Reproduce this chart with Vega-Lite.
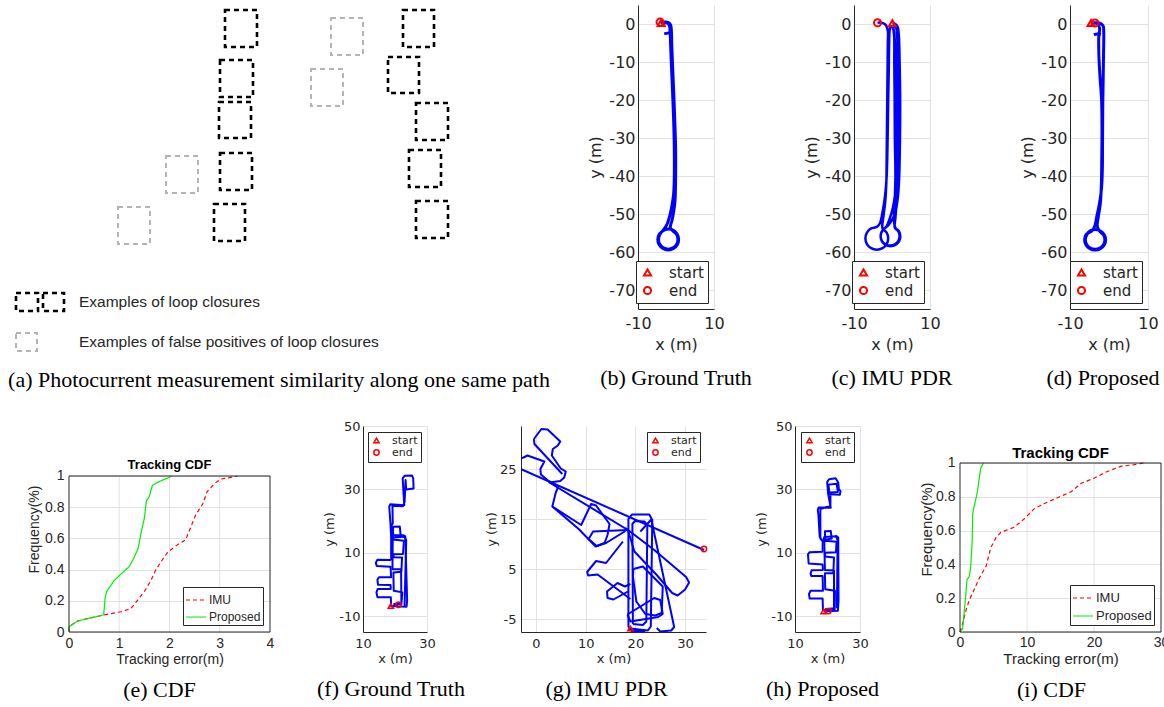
{
"$schema": "https://vega.github.io/schema/vega-lite/v6.json",
"background": "white",
"padding": {"left": 8, "top": 5, "right": 0, "bottom": 0},
"bounds": "flush",
"spacing": 421,
"datasets": {
"a_rects": [
{"k":"loop","x1":224,"x2":256,"y1":10,"y2":47},
{"k":"loop","x1":219,"x2":252,"y1":60,"y2":97},
{"k":"loop","x1":218,"x2":250,"y1":102,"y2":138},
{"k":"loop","x1":219,"x2":251,"y1":153,"y2":190},
{"k":"loop","x1":213,"x2":244,"y1":204,"y2":241},
{"k":"loop","x1":402,"x2":433,"y1":10,"y2":47},
{"k":"loop","x1":387,"x2":418,"y1":57,"y2":93},
{"k":"loop","x1":415,"x2":447,"y1":103,"y2":140},
{"k":"loop","x1":408,"x2":440,"y1":150,"y2":187},
{"k":"loop","x1":415,"x2":447,"y1":201,"y2":238},
{"k":"loop","x1":15,"x2":37,"y1":293,"y2":311},
{"k":"loop","x1":42,"x2":63,"y1":293,"y2":311},
{"k":"false","x1":165,"x2":197,"y1":156,"y2":193},
{"k":"false","x1":117,"x2":149,"y1":207,"y2":244},
{"k":"false","x1":330,"x2":362,"y1":18,"y2":55},
{"k":"false","x1":310,"x2":342,"y1":69,"y2":106},
{"k":"false","x1":15,"x2":36,"y1":333,"y2":351}
],
"a_text": [
{"t":"Examples of loop closures","x":78,"y":302},
{"t":"Examples of false positives of loop closures","x":78,"y":342}
],
"b": [
{"s":"m","x":-3.9,"y":0.3},{"s":"m","x":-2.8,"y":0.35},{"s":"m","x":-2.1,"y":0.15},{"s":"m","x":-1.7,"y":-0.6},{"s":"m","x":-1.55,"y":-2.0},{"s":"m","x":-1.4,"y":-6},{"s":"m","x":-1.2,"y":-11},{"s":"m","x":-0.9,"y":-18},{"s":"m","x":-0.6,"y":-26},{"s":"m","x":-0.45,"y":-33},{"s":"m","x":-0.45,"y":-40},{"s":"m","x":-0.65,"y":-45},{"s":"m","x":-1.4,"y":-49.5},{"s":"m","x":-2.4,"y":-52.8},{"s":"m","x":-3.43,"y":-54.32},{"s":"m","x":-4.43,"y":-55.33},{"s":"m","x":-4.8,"y":-56.7},{"s":"m","x":-4.43,"y":-58.08},{"s":"m","x":-3.43,"y":-59.08},{"s":"m","x":-2.05,"y":-59.45},{"s":"m","x":-0.675,"y":-59.08},{"s":"m","x":0.33,"y":-58.08},{"s":"m","x":0.7,"y":-56.7},{"s":"m","x":0.33,"y":-55.33},{"s":"m","x":-0.675,"y":-54.32},{"s":"m","x":-2.05,"y":-53.95},{"s":"m","x":-3.43,"y":-54.4},{"s":"m","x":-4.26,"y":-55.42},{"s":"m","x":-4.6,"y":-56.7},{"s":"m","x":-4.26,"y":-57.98},{"s":"m","x":-3.33,"y":-58.9},{"s":"m","x":-2.05,"y":-59.25},{"s":"m","x":-0.77,"y":-58.9},{"s":"m","x":0.16,"y":-57.98},{"s":"m","x":0.5,"y":-56.7},{"s":"m","x":0.16,"y":-55.42},{"s":"m","x":-0.77,"y":-54.5},{"s":"m","x":-1.5,"y":-53.6},{"s":"m","x":-1.0,"y":-51.5},{"s":"m","x":-0.3,"y":-47},{"s":"m","x":-0.1,"y":-40},{"s":"m","x":-0.1,"y":-33},{"s":"m","x":-0.3,"y":-26},{"s":"m","x":-0.6,"y":-18},{"s":"m","x":-0.9,"y":-11},{"s":"m","x":-1.1,"y":-6},{"s":"m","x":-1.2,"y":-2.0},{"s":"m","x":-1.4,"y":-0.3},{"s":"m","x":-2.0,"y":0.4},{"s":"m","x":-3.0,"y":0.55},{"s":"m","x":-4.2,"y":0.5},
{"s":"h","x":-3.1,"y":-2.6},{"s":"h","x":-2.2,"y":-2.4},{"s":"h","x":-1.5,"y":-2.3}
],
"bm": [{"m":"start","x":-3.9,"y":0.3},{"m":"end","x":-4.2,"y":0.5}],
"c": [
{"s":"m","x":0.1,"y":0.2},{"s":"m","x":0.9,"y":0.0},{"s":"m","x":1.5,"y":-0.8},{"s":"m","x":1.8,"y":-3},{"s":"m","x":2.0,"y":-10},{"s":"m","x":2.15,"y":-20},{"s":"m","x":2.1,"y":-30},{"s":"m","x":1.9,"y":-40},{"s":"m","x":1.6,"y":-45},{"s":"m","x":1.0,"y":-49},{"s":"m","x":0.2,"y":-51.2},{"s":"m","x":-1.0,"y":-53.0},
{"s":"m","x":-1.75,"y":-53.63},{"s":"m","x":-2.67,"y":-54.55},{"s":"m","x":-3.0,"y":-55.8},{"s":"m","x":-2.67,"y":-57.05},{"s":"m","x":-1.75,"y":-57.97},{"s":"m","x":-0.5,"y":-58.3},{"s":"m","x":0.75,"y":-57.97},{"s":"m","x":1.67,"y":-57.05},{"s":"m","x":2.0,"y":-55.8},{"s":"m","x":1.67,"y":-54.55},{"s":"m","x":0.75,"y":-53.63},
{"s":"m","x":0.9,"y":-51.0},{"s":"m","x":1.3,"y":-46},{"s":"m","x":1.6,"y":-40},{"s":"m","x":1.7,"y":-30},{"s":"m","x":1.7,"y":-20},{"s":"m","x":1.55,"y":-10},{"s":"m","x":1.35,"y":-3},{"s":"m","x":1.1,"y":-1.0},{"s":"m","x":0.7,"y":-0.5},{"s":"m","x":0.4,"y":-0.9},{"s":"m","x":0.6,"y":-2.5},
{"s":"m","x":1.0,"y":-10},{"s":"m","x":1.15,"y":-20},{"s":"m","x":1.2,"y":-30},{"s":"m","x":1.1,"y":-40},{"s":"m","x":0.8,"y":-45},{"s":"m","x":0.2,"y":-48.5},{"s":"m","x":-0.6,"y":-51.2},{"s":"m","x":-1.4,"y":-53.2},
{"s":"m","x":-2.65,"y":-54.6},{"s":"m","x":-3.0,"y":-55.9},{"s":"m","x":-2.65,"y":-57.2},{"s":"m","x":-1.7,"y":-58.15},{"s":"m","x":-0.4,"y":-58.5},{"s":"m","x":0.9,"y":-58.15},{"s":"m","x":1.85,"y":-57.2},{"s":"m","x":2.2,"y":-55.9},{"s":"m","x":1.85,"y":-54.6},{"s":"m","x":0.9,"y":-53.65},
{"s":"m","x":0.5,"y":-51.5},{"s":"m","x":0.7,"y":-47},{"s":"m","x":0.9,"y":-40},{"s":"m","x":0.75,"y":-30},{"s":"m","x":0.7,"y":-20},{"s":"m","x":0.6,"y":-10},{"s":"m","x":0.55,"y":-3},{"s":"m","x":0.2,"y":-1.0},{"s":"m","x":-0.3,"y":-0.6},{"s":"m","x":-0.6,"y":-1.5},
{"s":"m","x":-0.75,"y":-5},{"s":"m","x":-0.85,"y":-12},{"s":"m","x":-1.0,"y":-20},{"s":"m","x":-1.15,"y":-30},{"s":"m","x":-1.4,"y":-40},{"s":"m","x":-1.8,"y":-45},{"s":"m","x":-2.4,"y":-49},{"s":"m","x":-3.2,"y":-52.5},{"s":"m","x":-4.0,"y":-53.4},
{"s":"m","x":-5.5,"y":-53.8},{"s":"m","x":-6.6,"y":-54.9},{"s":"m","x":-7.0,"y":-56.4},{"s":"m","x":-6.6,"y":-57.9},{"s":"m","x":-5.5,"y":-59.0},{"s":"m","x":-4.0,"y":-59.4},{"s":"m","x":-2.5,"y":-59.0},{"s":"m","x":-1.4,"y":-57.9},{"s":"m","x":-1.0,"y":-56.4},{"s":"m","x":-1.4,"y":-54.9},{"s":"m","x":-2.5,"y":-53.8},
{"s":"m","x":-2.3,"y":-51},{"s":"m","x":-1.8,"y":-47},{"s":"m","x":-1.5,"y":-42},{"s":"m","x":-1.4,"y":-35},{"s":"m","x":-1.3,"y":-25},{"s":"m","x":-1.2,"y":-15},{"s":"m","x":-1.1,"y":-5},{"s":"m","x":-1.1,"y":-1.8},{"s":"m","x":-1.6,"y":-0.3},{"s":"m","x":-2.6,"y":0.3},{"s":"m","x":-3.8,"y":0.35}
],
"cm": [{"m":"start","x":0.1,"y":0.2},{"m":"end","x":-3.8,"y":0.35}],
"d": [
{"s":"m","x":-4.6,"y":0.26},{"s":"m","x":-3.6,"y":0.35},{"s":"m","x":-2.3,"y":0.25},{"s":"m","x":-1.5,"y":-0.5},{"s":"m","x":-1.35,"y":-2},{"s":"m","x":-1.4,"y":-8},{"s":"m","x":-1.5,"y":-15},{"s":"m","x":-1.6,"y":-22},{"s":"m","x":-1.65,"y":-30},{"s":"m","x":-1.7,"y":-38},{"s":"m","x":-1.9,"y":-43},{"s":"m","x":-2.4,"y":-47},{"s":"m","x":-3.1,"y":-50.5},{"s":"m","x":-3.6,"y":-53},{"s":"m","x":-4.2,"y":-54.3},
{"s":"m","x":-5.9,"y":-55.45},{"s":"m","x":-6.26,"y":-56.8},{"s":"m","x":-5.9,"y":-58.15},{"s":"m","x":-4.91,"y":-59.14},{"s":"m","x":-3.56,"y":-59.5},{"s":"m","x":-2.21,"y":-59.14},{"s":"m","x":-1.22,"y":-58.15},{"s":"m","x":-0.86,"y":-56.8},{"s":"m","x":-1.22,"y":-55.45},{"s":"m","x":-2.21,"y":-54.46},{"s":"m","x":-3.56,"y":-54.1},{"s":"m","x":-4.91,"y":-54.46},
{"s":"m","x":-5.73,"y":-55.55},{"s":"m","x":-6.06,"y":-56.8},{"s":"m","x":-5.73,"y":-58.05},{"s":"m","x":-4.81,"y":-58.97},{"s":"m","x":-3.56,"y":-59.3},{"s":"m","x":-2.31,"y":-58.97},{"s":"m","x":-1.39,"y":-58.05},{"s":"m","x":-1.06,"y":-56.8},{"s":"m","x":-1.39,"y":-55.55},{"s":"m","x":-2.31,"y":-54.63},
{"s":"m","x":-3.0,"y":-53.3},{"s":"m","x":-2.7,"y":-50.5},{"s":"m","x":-2.2,"y":-47},{"s":"m","x":-1.95,"y":-42},{"s":"m","x":-1.85,"y":-35},{"s":"m","x":-1.8,"y":-28},{"s":"m","x":-1.9,"y":-20},{"s":"m","x":-2.3,"y":-14},{"s":"m","x":-2.6,"y":-8},{"s":"m","x":-2.6,"y":-3},{"s":"m","x":-2.4,"y":-1.2},{"s":"m","x":-2.9,"y":0.0},{"s":"m","x":-3.6,"y":0.26},
{"s":"h","x":-3.9,"y":-2.8},{"s":"h","x":-3.0,"y":-2.6},{"s":"h","x":-2.1,"y":-2.8}
],
"dm": [{"m":"start","x":-4.6,"y":0.26},{"m":"end","x":-3.6,"y":0.26}],
"cdf_e": [
{"s":"IMU","x":0,"y":0.004},{"s":"IMU","x":0.01,"y":0.036},{"s":"IMU","x":0.17,"y":0.07},{"s":"IMU","x":0.37,"y":0.086},{"s":"IMU","x":0.57,"y":0.1},{"s":"IMU","x":0.7,"y":0.11},{"s":"IMU","x":1.03,"y":0.13},{"s":"IMU","x":1.23,"y":0.15},{"s":"IMU","x":1.33,"y":0.19},{"s":"IMU","x":1.5,"y":0.26},{"s":"IMU","x":1.63,"y":0.33},{"s":"IMU","x":1.73,"y":0.4},{"s":"IMU","x":1.83,"y":0.45},{"s":"IMU","x":1.96,"y":0.51},{"s":"IMU","x":2.16,"y":0.56},{"s":"IMU","x":2.32,"y":0.59},{"s":"IMU","x":2.42,"y":0.67},{"s":"IMU","x":2.52,"y":0.75},{"s":"IMU","x":2.66,"y":0.82},{"s":"IMU","x":2.75,"y":0.9},{"s":"IMU","x":2.89,"y":0.95},{"s":"IMU","x":3.02,"y":0.98},{"s":"IMU","x":3.28,"y":0.995},{"s":"IMU","x":3.35,"y":1.0},
{"s":"Proposed","x":0,"y":0.004},{"s":"Proposed","x":0.01,"y":0.036},{"s":"Proposed","x":0.17,"y":0.07},{"s":"Proposed","x":0.37,"y":0.086},{"s":"Proposed","x":0.57,"y":0.1},{"s":"Proposed","x":0.69,"y":0.11},{"s":"Proposed","x":0.72,"y":0.22},{"s":"Proposed","x":0.75,"y":0.26},{"s":"Proposed","x":0.9,"y":0.33},{"s":"Proposed","x":1.03,"y":0.37},{"s":"Proposed","x":1.2,"y":0.42},{"s":"Proposed","x":1.3,"y":0.48},{"s":"Proposed","x":1.38,"y":0.54},{"s":"Proposed","x":1.43,"y":0.63},{"s":"Proposed","x":1.5,"y":0.73},{"s":"Proposed","x":1.54,"y":0.84},{"s":"Proposed","x":1.6,"y":0.87},{"s":"Proposed","x":1.66,"y":0.94},{"s":"Proposed","x":1.83,"y":0.97},{"s":"Proposed","x":1.99,"y":0.99},{"s":"Proposed","x":2.04,"y":1.0}
],
"cdf_i": [
{"s":"IMU","x":0,"y":0},{"s":"IMU","x":0.4,"y":0.05},{"s":"IMU","x":0.9,"y":0.13},{"s":"IMU","x":1.4,"y":0.19},{"s":"IMU","x":2.1,"y":0.25},{"s":"IMU","x":2.9,"y":0.32},{"s":"IMU","x":3.9,"y":0.39},{"s":"IMU","x":4.6,"y":0.5},{"s":"IMU","x":5.4,"y":0.56},{"s":"IMU","x":6.1,"y":0.59},{"s":"IMU","x":8.1,"y":0.62},{"s":"IMU","x":9.6,"y":0.67},{"s":"IMU","x":11.1,"y":0.73},{"s":"IMU","x":12.6,"y":0.76},{"s":"IMU","x":14.3,"y":0.79},{"s":"IMU","x":16.6,"y":0.83},{"s":"IMU","x":18.1,"y":0.88},{"s":"IMU","x":20.0,"y":0.91},{"s":"IMU","x":22.0,"y":0.95},{"s":"IMU","x":24.0,"y":0.98},{"s":"IMU","x":26.0,"y":0.99},{"s":"IMU","x":27.4,"y":1.0},
{"s":"Proposed","x":0,"y":0},{"s":"Proposed","x":0.4,"y":0.02},{"s":"Proposed","x":0.65,"y":0.13},{"s":"Proposed","x":0.8,"y":0.19},{"s":"Proposed","x":1.05,"y":0.31},{"s":"Proposed","x":1.4,"y":0.33},{"s":"Proposed","x":1.6,"y":0.39},{"s":"Proposed","x":1.8,"y":0.52},{"s":"Proposed","x":1.9,"y":0.7},{"s":"Proposed","x":2.1,"y":0.74},{"s":"Proposed","x":2.6,"y":0.83},{"s":"Proposed","x":2.9,"y":0.92},{"s":"Proposed","x":3.1,"y":0.97},{"s":"Proposed","x":3.5,"y":1.0}
],
"grid_e": [{"g":1},{"g":2},{"g":3}],
"grid_i": [{"g":10},{"g":20}],
"f": [
{"s":"f1","x":18.7,"y":-6.8},{"s":"f1","x":23.6,"y":-7.0},{"s":"f1","x":23.8,"y":-5},{"s":"f1","x":23.2,"y":15.2},{"s":"f1","x":22.7,"y":15.5},{"s":"f1","x":19.2,"y":15.5},{"s":"f1","x":18.8,"y":14.5},{"s":"f1","x":18.8,"y":8},{"s":"f1","x":18.6,"y":7.7},{"s":"f1","x":14.5,"y":7.8},{"s":"f1","x":14.0,"y":6.8},{"s":"f1","x":14.3,"y":5.8},{"s":"f1","x":18.6,"y":5.6},{"s":"f1","x":18.8,"y":2.3},{"s":"f1","x":15.0,"y":2.3},{"s":"f1","x":14.5,"y":1.5},{"s":"f1","x":14.7,"y":-0.1},{"s":"f1","x":18.6,"y":-0.2},{"s":"f1","x":18.7,"y":-1.4},{"s":"f1","x":14.6,"y":-1.4},{"s":"f1","x":14.2,"y":-2.5},{"s":"f1","x":14.5,"y":-4.0},{"s":"f1","x":18.7,"y":-4.0},{"s":"f1","x":18.8,"y":-6.9},{"s":"f1","x":21.0,"y":-6.5},
{"s":"f2","x":19.5,"y":-6.2},{"s":"f2","x":22.0,"y":-6.3},{"s":"f2","x":22.3,"y":-2.5},{"s":"f2","x":19.6,"y":-2.0},{"s":"f2","x":19.5,"y":3.8},{"s":"f2","x":22.0,"y":4.0},{"s":"f2","x":22.2,"y":8.5},{"s":"f2","x":19.6,"y":8.6},{"s":"f2","x":19.5,"y":9.5},{"s":"f2","x":22.5,"y":9.6},{"s":"f2","x":22.8,"y":13.8},{"s":"f2","x":19.4,"y":14.2},{"s":"f2","x":19.4,"y":18.2},{"s":"f2","x":21.5,"y":18.3},{"s":"f2","x":21.8,"y":15.0},{"s":"f2","x":19.3,"y":14.8},{"s":"f2","x":19.2,"y":4.8},{"s":"f2","x":21.9,"y":4.9},{"s":"f2","x":22.0,"y":-6.0},{"s":"f2","x":19.5,"y":-6.2},
{"s":"f3","x":18.8,"y":14.6},{"s":"f3","x":18.6,"y":19},{"s":"f3","x":18.2,"y":24.5},{"s":"f3","x":18.5,"y":25.3},{"s":"f3","x":22.9,"y":25.0},{"s":"f3","x":22.6,"y":29.8},{"s":"f3","x":22.4,"y":33.5},{"s":"f3","x":23.0,"y":34.3},{"s":"f3","x":25.3,"y":34.4},{"s":"f3","x":25.7,"y":33.5},{"s":"f3","x":25.8,"y":30.3},{"s":"f3","x":23.5,"y":30.0},{"s":"f3","x":23.3,"y":33.0},{"s":"f3","x":23.0,"y":26.0},{"s":"f3","x":22.5,"y":24.7},{"s":"f3","x":19.2,"y":24.8},{"s":"f3","x":19.3,"y":19.3},{"s":"f3","x":18.9,"y":18.5},{"s":"f3","x":19.4,"y":14.0},
{"s":"f4","x":23.0,"y":-6.8},{"s":"f4","x":23.5,"y":14.0},{"s":"f4","x":23.0,"y":15.0},{"s":"f4","x":20.0,"y":15.2}
],
"fm": [{"m":"start","x":18.7,"y":-6.8},{"m":"end","x":21.1,"y":-6.4}],
"g": [
{"s":"g1","x":19.0,"y":-6.9},{"s":"g1","x":22.5,"y":-7.3},{"s":"g1","x":23.1,"y":-6.5},{"s":"g1","x":23.4,"y":14.8},{"s":"g1","x":22.8,"y":15.9},{"s":"g1","x":19.3,"y":15.9},{"s":"g1","x":18.6,"y":15.0},{"s":"g1","x":18.6,"y":-6.5},{"s":"g1","x":19.2,"y":-7.4},{"s":"g1","x":22.0,"y":-7.4},
{"s":"g2","x":19.5,"y":-6.0},{"s":"g2","x":19.4,"y":14.0},{"s":"g2","x":19.9,"y":14.6},{"s":"g2","x":21.8,"y":14.5},{"s":"g2","x":22.4,"y":13.8},{"s":"g2","x":22.2,"y":-5.5},{"s":"g2","x":21.5,"y":-6.2},{"s":"g2","x":19.5,"y":-6.0},
{"s":"g3","x":18.0,"y":13.2},{"s":"g3","x":23.8,"y":8.8},{"s":"g3","x":30.2,"y":3.4},{"s":"g3","x":30.8,"y":2.3},{"s":"g3","x":30.0,"y":0.9},{"s":"g3","x":28.5,"y":-0.3},{"s":"g3","x":27.4,"y":0.2},{"s":"g3","x":24.3,"y":3.8},{"s":"g3","x":19.8,"y":8.5},{"s":"g3","x":18.5,"y":12.8},
{"s":"g4","x":19.6,"y":5.0},{"s":"g4","x":21.5,"y":5.5},{"s":"g4","x":25.5,"y":1.5},{"s":"g4","x":25.3,"y":-3.8},{"s":"g4","x":24.0,"y":-4.3},{"s":"g4","x":22.0,"y":-4.0},{"s":"g4","x":20.2,"y":-1.5},{"s":"g4","x":19.5,"y":3.5},{"s":"g4","x":19.6,"y":5.0},
{"s":"g5","x":18.4,"y":-4.1},{"s":"g5","x":23.8,"y":-0.8},{"s":"g5","x":25.0,"y":-1.2},{"s":"g5","x":25.5,"y":-4.0},{"s":"g5","x":24.6,"y":-4.6},{"s":"g5","x":19.0,"y":-5.5},{"s":"g5","x":18.4,"y":-4.1},
{"s":"g6","x":21.0,"y":12.5},{"s":"g6","x":23.2,"y":14.9},{"s":"g6","x":27.8,"y":-6.6},{"s":"g6","x":27.2,"y":-7.3},{"s":"g6","x":25.0,"y":-7.5},{"s":"g6","x":24.3,"y":-6.8},
{"s":"g7","x":-6.0,"y":26.3},{"s":"g7","x":33.8,"y":8.8},
{"s":"g8","x":-0.4,"y":31.0},{"s":"g8","x":1.1,"y":33.0},{"s":"g8","x":2.35,"y":32.9},{"s":"g8","x":4.9,"y":30.5},{"s":"g8","x":4.4,"y":29.7},{"s":"g8","x":3.4,"y":29.0},{"s":"g8","x":3.2,"y":27.7},{"s":"g8","x":5.0,"y":25.1},{"s":"g8","x":6.0,"y":24.5},{"s":"g8","x":5.7,"y":23.3},{"s":"g8","x":4.9,"y":22.6},{"s":"g8","x":2.7,"y":22.3},{"s":"g8","x":18.5,"y":12.8},
{"s":"g9","x":-0.4,"y":31.0},{"s":"g9","x":-0.3,"y":30.0},{"s":"g9","x":5.3,"y":24.0},
{"s":"g10","x":-3.5,"y":27.0},{"s":"g10","x":-2.5,"y":27.3},{"s":"g10","x":-1.7,"y":27.7},{"s":"g10","x":1.7,"y":26.5},{"s":"g10","x":0.9,"y":25.0},{"s":"g10","x":1.0,"y":23.9},{"s":"g10","x":2.3,"y":22.8},{"s":"g10","x":4.5,"y":21.5},{"s":"g10","x":4.0,"y":20.3},{"s":"g10","x":3.3,"y":17.5},{"s":"g10","x":9.1,"y":13.8},{"s":"g10","x":11.1,"y":18.0},{"s":"g10","x":12.1,"y":17.7},{"s":"g10","x":14.8,"y":14.0},{"s":"g10","x":14.4,"y":11.8},{"s":"g10","x":13.8,"y":10.2},{"s":"g10","x":12.2,"y":9.6},{"s":"g10","x":10.6,"y":11.0},{"s":"g10","x":11.5,"y":12.5},{"s":"g10","x":18.5,"y":12.8},
{"s":"g11","x":17.5,"y":10.5},{"s":"g11","x":14.1,"y":6.2},{"s":"g11","x":12.1,"y":6.6},{"s":"g11","x":10.3,"y":4.4},{"s":"g11","x":10.5,"y":3.7},{"s":"g11","x":12.4,"y":3.9},{"s":"g11","x":19.0,"y":-1.0},
{"s":"g12","x":19.0,"y":2.0},{"s":"g12","x":17.9,"y":1.5},{"s":"g12","x":16.4,"y":2.2},{"s":"g12","x":14.3,"y":0.5},{"s":"g12","x":14.4,"y":-0.8},{"s":"g12","x":15.6,"y":-1.1},{"s":"g12","x":18.5,"y":0.5},
{"s":"g13","x":3.3,"y":17.5},{"s":"g13","x":8.6,"y":13.0},{"s":"g13","x":12.0,"y":9.5},{"s":"g13","x":14.1,"y":10.2},{"s":"g13","x":18.0,"y":12.6}
],
"gm": [{"m":"start","x":19.0,"y":-6.9},{"m":"end","x":33.8,"y":9.0}],
"h": [
{"s":"h1","x":18.8,"y":-8.5},{"s":"h1","x":23.2,"y":-8.3},{"s":"h1","x":23.4,"y":-5},{"s":"h1","x":23.3,"y":14.8},{"s":"h1","x":22.8,"y":15.2},{"s":"h1","x":19.0,"y":15.0},{"s":"h1","x":18.5,"y":13},{"s":"h1","x":18.5,"y":10.3},{"s":"h1","x":14.5,"y":10.2},{"s":"h1","x":14.0,"y":9.5},{"s":"h1","x":14.2,"y":6.6},{"s":"h1","x":18.5,"y":6.3},{"s":"h1","x":18.6,"y":4.6},{"s":"h1","x":15.1,"y":4.5},{"s":"h1","x":14.8,"y":3.4},{"s":"h1","x":15.0,"y":2.7},{"s":"h1","x":18.5,"y":2.7},{"s":"h1","x":18.6,"y":-2.0},{"s":"h1","x":14.8,"y":-2.0},{"s":"h1","x":14.3,"y":-3.0},{"s":"h1","x":14.5,"y":-4.4},{"s":"h1","x":18.5,"y":-4.4},{"s":"h1","x":18.6,"y":-8.0},{"s":"h1","x":20.3,"y":-8.4},
{"s":"h2","x":19.2,"y":-7.8},{"s":"h2","x":22.2,"y":-8.0},{"s":"h2","x":22.3,"y":-2.0},{"s":"h2","x":19.3,"y":-1.5},{"s":"h2","x":19.2,"y":3.5},{"s":"h2","x":21.8,"y":3.6},{"s":"h2","x":22.0,"y":8.5},{"s":"h2","x":19.3,"y":8.8},{"s":"h2","x":19.2,"y":10},{"s":"h2","x":22.6,"y":10.2},{"s":"h2","x":22.8,"y":13.5},{"s":"h2","x":19.3,"y":13.8},{"s":"h2","x":19.2,"y":16.8},{"s":"h2","x":21.0,"y":16.9},{"s":"h2","x":21.3,"y":14.5},{"s":"h2","x":19.0,"y":14.0},{"s":"h2","x":19.2,"y":4.6},{"s":"h2","x":22.0,"y":4.4},{"s":"h2","x":22.0,"y":-7.5},{"s":"h2","x":19.2,"y":-7.8},
{"s":"h3","x":18.3,"y":14.0},{"s":"h3","x":17.6,"y":15.0},{"s":"h3","x":17.2,"y":22.0},{"s":"h3","x":17.0,"y":23.5},{"s":"h3","x":17.3,"y":24.3},{"s":"h3","x":21.0,"y":24.2},{"s":"h3","x":20.2,"y":28.5},{"s":"h3","x":19.9,"y":32.4},{"s":"h3","x":20.5,"y":33.2},{"s":"h3","x":22.5,"y":33.5},{"s":"h3","x":23.3,"y":32.2},{"s":"h3","x":23.5,"y":30.0},{"s":"h3","x":24.0,"y":29.5},{"s":"h3","x":23.8,"y":28.3},{"s":"h3","x":20.6,"y":28.5},{"s":"h3","x":20.3,"y":31.5},{"s":"h3","x":22.8,"y":31.8},{"s":"h3","x":23.2,"y":29.2},{"s":"h3","x":20.9,"y":29.0},{"s":"h3","x":20.9,"y":24.8},{"s":"h3","x":17.8,"y":23.8},{"s":"h3","x":17.8,"y":14.5},{"s":"h3","x":18.6,"y":13.5},
{"s":"h4","x":22.9,"y":-7.5},{"s":"h4","x":23.1,"y":14.0},{"s":"h4","x":22.5,"y":15.5}
],
"hm": [{"m":"start","x":18.8,"y":-8.5},{"m":"end","x":20.3,"y":-8.4}]
},
"vconcat": [
{
"bounds": "flush",
"spacing": 0,
"hconcat": [
{
 "width": 392, "height": 353,
 "title": {"text": "(a) Photocurrent measurement similarity along one same path", "dx": 14, "offset": 12},
 "layer": [
  {"data": {"name": "a_rects"}, "transform": [{"filter": "datum.k === 'loop'"}],
   "mark": {"type": "rect", "filled": false, "stroke": "#000000", "strokeWidth": 2.6, "strokeDash": [5, 4]},
   "encoding": {
    "x": {"field": "x1", "type": "quantitative", "scale": {"domain": [68, 460], "nice": false, "zero": false}, "axis": null},
    "x2": {"field": "x2"},
    "y": {"field": "y1", "type": "quantitative", "scale": {"domain": [5, 358], "reverse": true, "nice": false, "zero": false}, "axis": null},
    "y2": {"field": "y2"}}},
  {"data": {"name": "a_rects"}, "transform": [{"filter": "datum.k === 'false'"}],
   "mark": {"type": "rect", "filled": false, "stroke": "#b4b4b4", "strokeWidth": 2, "strokeDash": [5, 4]},
   "encoding": {
    "x": {"field": "x1", "type": "quantitative"}, "x2": {"field": "x2"},
    "y": {"field": "y1", "type": "quantitative"}, "y2": {"field": "y2"}}},
  {"data": {"name": "a_text"},
   "mark": {"type": "text", "align": "left", "baseline": "middle", "font": "Liberation Sans", "fontSize": 15.5, "color": "#262626"},
   "encoding": {"x": {"field": "x", "type": "quantitative"}, "y": {"field": "y", "type": "quantitative"}, "text": {"field": "t"}}}
 ]
},
{"data": {"values": []}, "mark": "point", "width": 177, "height": 1},
{
 "width": 76, "height": 304,
 "title": {"text": "(b) Ground Truth"},
 "layer": [
  {"data": {"name": "b"}, "mark": {"type": "line", "color": "#0000ff", "strokeWidth": 3, "interpolate": "catmull-rom"},
   "encoding": {
    "x": {"field": "x", "type": "quantitative", "scale": {"domain": [-10, 10], "nice": false, "zero": false}, "axis": {"values": [-10, 0, 10], "title": "x (m)"}},
    "y": {"field": "y", "type": "quantitative", "scale": {"domain": [-75, 5], "nice": false, "zero": false}, "axis": {"values": [-70, -60, -50, -40, -30, -20, -10, 0], "title": "y (m)", "labelPadding": 3, "titlePadding": 5}},
    "detail": {"field": "s"}, "order": {"value": null}}},
  {"data": {"name": "bm"}, "mark": {"type": "point", "filled": false, "color": "#ff0000", "opacity": 1, "strokeWidth": 2, "size": 50},
   "encoding": {
    "x": {"field": "x", "type": "quantitative"}, "y": {"field": "y", "type": "quantitative"},
    "shape": {"field": "m", "type": "nominal", "scale": {"domain": ["start", "end"], "range": ["triangle-up", "circle"]},
     "legend": {"title": null, "orient": "bottom-right", "offset": 6, "labelFontSize": 15, "symbolSize": 50, "symbolOpacity": 1, "padding": 4, "rowPadding": 1, "labelOffset": 14}}}}
 ]
},
{"data": {"values": []}, "mark": "point", "width": 140, "height": 1},
{
 "width": 76, "height": 304,
 "title": {"text": "(c) IMU PDR"},
 "layer": [
  {"data": {"name": "c"}, "mark": {"type": "line", "color": "#0000ff", "strokeWidth": 2.5, "interpolate": "catmull-rom"},
   "encoding": {
    "x": {"field": "x", "type": "quantitative", "scale": {"domain": [-10, 10], "nice": false, "zero": false}, "axis": {"values": [-10, 0, 10], "title": "x (m)"}},
    "y": {"field": "y", "type": "quantitative", "scale": {"domain": [-75, 5], "nice": false, "zero": false}, "axis": {"values": [-70, -60, -50, -40, -30, -20, -10, 0], "title": "y (m)", "labelPadding": 3, "titlePadding": 5}},
    "detail": {"field": "s"}, "order": {"value": null}}},
  {"data": {"name": "cm"}, "mark": {"type": "point", "filled": false, "color": "#ff0000", "opacity": 1, "strokeWidth": 2, "size": 50},
   "encoding": {
    "x": {"field": "x", "type": "quantitative"}, "y": {"field": "y", "type": "quantitative"},
    "shape": {"field": "m", "type": "nominal", "scale": {"domain": ["start", "end"], "range": ["triangle-up", "circle"]},
     "legend": {"title": null, "orient": "bottom-right", "offset": 6, "labelFontSize": 15, "symbolSize": 50, "symbolOpacity": 1, "padding": 4, "rowPadding": 1, "labelOffset": 14}}}}
 ]
},
{"data": {"values": []}, "mark": "point", "width": 140, "height": 1},
{
 "width": 78, "height": 304,
 "title": {"text": "(d) Proposed", "dx": -6},
 "layer": [
  {"data": {"name": "d"}, "mark": {"type": "line", "color": "#0000ff", "strokeWidth": 3, "interpolate": "catmull-rom"},
   "encoding": {
    "x": {"field": "x", "type": "quantitative", "scale": {"domain": [-10, 10], "nice": false, "zero": false}, "axis": {"values": [-10, 0, 10], "title": "x (m)"}},
    "y": {"field": "y", "type": "quantitative", "scale": {"domain": [-75, 5], "nice": false, "zero": false}, "axis": {"values": [-70, -60, -50, -40, -30, -20, -10, 0], "title": "y (m)", "labelPadding": 3, "titlePadding": 5}},
    "detail": {"field": "s"}, "order": {"value": null}}},
  {"data": {"name": "dm"}, "mark": {"type": "point", "filled": false, "color": "#ff0000", "opacity": 1, "strokeWidth": 2, "size": 50},
   "encoding": {
    "x": {"field": "x", "type": "quantitative"}, "y": {"field": "y", "type": "quantitative"},
    "shape": {"field": "m", "type": "nominal", "scale": {"domain": ["start", "end"], "range": ["triangle-up", "circle"]},
     "legend": {"title": null, "orient": "bottom-right", "offset": 6, "labelFontSize": 15, "symbolSize": 50, "symbolOpacity": 1, "padding": 4, "rowPadding": 1, "labelOffset": 14}}}}
 ]
}
],
"resolve": {
 "scale": {"x": "independent", "y": "independent", "shape": "independent"},
 "legend": {"shape": "independent"},
 "axis": {"x": "independent", "y": "independent"}
}
},
{
"bounds": "flush",
"spacing": 0,
"hconcat": [
{
 "width": 201, "height": 206,
 "title": {"text": "(e) CDF", "dx": -10, "offset": 14},
 "layer": [
  {"data": {"name": "grid_e"}, "mark": {"type": "rule", "color": "#e2e2e2", "strokeWidth": 1},
   "encoding": {"x": {"field": "g", "type": "quantitative", "scale": {"domain": [0, 4], "nice": false, "zero": false}, "axis": {"values": [0, 1, 2, 3, 4], "format": "d", "title": "Tracking error(m)", "grid": false, "domain": false, "labelFont": "Liberation Sans", "titleFont": "Liberation Sans", "labelFontSize": 14, "titleFontSize": 14, "labelPadding": 4, "titlePadding": 2}},
    "y": {"datum": 0, "type": "quantitative", "scale": {"domain": [0, 1.3205], "nice": false, "zero": false}, "axis": {"values": [0, 0.2, 0.4, 0.6, 0.8, 1], "format": "~g", "title": "Frequency(%)", "domain": false, "labelOverlap": false, "labelFont": "Liberation Sans", "titleFont": "Liberation Sans", "labelFontSize": 14, "titleFontSize": 14, "labelPadding": 5, "titlePadding": 3}},
    "y2": {"datum": 1}}},
  {"data": {"name": "cdf_e"}, "mark": {"type": "line", "strokeWidth": 1.2},
   "encoding": {
    "x": {"field": "x", "type": "quantitative"},
    "y": {"field": "y", "type": "quantitative"},
    "color": {"field": "s", "type": "nominal", "scale": {"domain": ["IMU", "Proposed"], "range": ["#ff0000", "#00ee00"]},
     "legend": {"title": null, "orient": "bottom-right", "offset": 7, "symbolType": "stroke", "symbolSize": 400, "symbolStrokeWidth": 1.2, "labelFont": "Liberation Sans", "labelFontSize": 12, "labelOffset": 2, "padding": 2, "rowPadding": 0}},
    "strokeDash": {"field": "s", "type": "nominal", "scale": {"domain": ["IMU", "Proposed"], "range": [[4, 3], [1, 0]]},
     "legend": {"title": null, "orient": "bottom-right", "offset": 7, "symbolType": "stroke", "symbolSize": 400, "symbolStrokeWidth": 1.2, "labelFont": "Liberation Sans", "labelFontSize": 12, "labelOffset": 2, "padding": 2, "rowPadding": 0}},
    "order": {"value": null}}},
  {"data": {"values": [{}]}, "mark": {"type": "rect", "filled": false, "stroke": "#262626", "strokeWidth": 1},
   "encoding": {"x": {"datum": 0}, "x2": {"datum": 4}, "y": {"datum": 0}, "y2": {"datum": 1}}},
  {"data": {"values": [{"t": "Tracking CDF"}]}, "mark": {"type": "text", "font": "Liberation Sans", "fontWeight": "bold", "fontSize": 13, "dy": -11, "baseline": "middle", "color": "#000000"},
   "encoding": {"x": {"datum": 2}, "y": {"datum": 1}, "text": {"field": "t"}}}
 ]
},
{"data": {"values": []}, "mark": "point", "width": 93, "height": 1},
{
 "width": 64, "height": 206,
 "title": {"text": "(f) Ground Truth", "dx": -4, "offset": 14},
 "layer": [
  {"data": {"name": "f"}, "mark": {"type": "line", "color": "#0000ff", "strokeWidth": 2, "strokeJoin": "round"},
   "encoding": {
    "x": {"field": "x", "type": "quantitative", "scale": {"domain": [10, 30], "nice": false, "zero": false}, "axis": {"values": [10, 20, 30], "title": "x (m)", "labelFontSize": 13, "titleFontSize": 13, "labelPadding": 5, "titlePadding": 2}},
    "y": {"field": "y", "type": "quantitative", "scale": {"domain": [-15, 50], "nice": false, "zero": false}, "axis": {"values": [-10, 0, 10, 20, 30, 40, 50], "title": "y (m)", "labelFontSize": 13, "titleFontSize": 13, "labelPadding": 3, "titlePadding": 2}},
    "detail": {"field": "s"}, "order": {"value": null}}},
  {"data": {"name": "fm"}, "mark": {"type": "point", "filled": false, "color": "#ff0000", "opacity": 1, "strokeWidth": 1.5, "size": 28},
   "encoding": {
    "x": {"field": "x", "type": "quantitative"}, "y": {"field": "y", "type": "quantitative"},
    "shape": {"field": "m", "type": "nominal", "scale": {"domain": ["start", "end"], "range": ["triangle-up", "circle"]},
     "legend": {"title": null, "orient": "top-right", "offset": 6, "labelFontSize": 11, "symbolSize": 28, "symbolOpacity": 1, "symbolStrokeWidth": 1.5, "padding": 3, "rowPadding": 0, "labelOffset": 10}}}}
 ]
},
{"data": {"values": []}, "mark": "point", "width": 94, "height": 1},
{
 "width": 185, "height": 206,
 "title": {"text": "(g) IMU PDR", "dx": -7, "offset": 14},
 "layer": [
  {"data": {"name": "g"}, "mark": {"type": "line", "color": "#0000ff", "strokeWidth": 2, "strokeJoin": "round", "clip": true},
   "encoding": {
    "x": {"field": "x", "type": "quantitative", "scale": {"domain": [-3, 34.2], "nice": false, "zero": false}, "axis": {"values": [0, 10, 20, 30], "title": "x (m)", "labelFontSize": 13, "titleFontSize": 13, "labelPadding": 5, "titlePadding": 2}},
    "y": {"field": "y", "type": "quantitative", "scale": {"domain": [-7.6, 33.6], "nice": false, "zero": false}, "axis": {"values": [-5, 0, 5, 10, 15, 20, 25, 30], "title": "y (m)", "labelFontSize": 13, "titleFontSize": 13, "labelPadding": 5, "titlePadding": 1}},
    "detail": {"field": "s"}, "order": {"value": null}}},
  {"data": {"name": "gm"}, "mark": {"type": "point", "filled": false, "color": "#ff0000", "opacity": 1, "strokeWidth": 1.5, "size": 28},
   "encoding": {
    "x": {"field": "x", "type": "quantitative"}, "y": {"field": "y", "type": "quantitative"},
    "shape": {"field": "m", "type": "nominal", "scale": {"domain": ["start", "end"], "range": ["triangle-up", "circle"]},
     "legend": {"title": null, "orient": "top-right", "offset": 6, "labelFontSize": 11, "symbolSize": 28, "symbolOpacity": 1, "symbolStrokeWidth": 1.5, "padding": 3, "rowPadding": 0, "labelOffset": 10}}}}
 ]
},
{"data": {"values": []}, "mark": "point", "width": 89, "height": 1},
{
 "width": 65, "height": 206,
 "title": {"text": "(h) Proposed", "dx": -5, "offset": 14},
 "layer": [
  {"data": {"name": "h"}, "mark": {"type": "line", "color": "#0000ff", "strokeWidth": 2, "strokeJoin": "round"},
   "encoding": {
    "x": {"field": "x", "type": "quantitative", "scale": {"domain": [10, 30], "nice": false, "zero": false}, "axis": {"values": [10, 20, 30], "title": "x (m)", "labelFontSize": 13, "titleFontSize": 13, "labelPadding": 5, "titlePadding": 2}},
    "y": {"field": "y", "type": "quantitative", "scale": {"domain": [-15, 50], "nice": false, "zero": false}, "axis": {"values": [-10, 0, 10, 20, 30, 40, 50], "title": "y (m)", "labelFontSize": 13, "titleFontSize": 13, "labelPadding": 3, "titlePadding": 2}},
    "detail": {"field": "s"}, "order": {"value": null}}},
  {"data": {"name": "hm"}, "mark": {"type": "point", "filled": false, "color": "#ff0000", "opacity": 1, "strokeWidth": 1.5, "size": 28},
   "encoding": {
    "x": {"field": "x", "type": "quantitative"}, "y": {"field": "y", "type": "quantitative"},
    "shape": {"field": "m", "type": "nominal", "scale": {"domain": ["start", "end"], "range": ["triangle-up", "circle"]},
     "legend": {"title": null, "orient": "top-right", "offset": 6, "labelFontSize": 11, "symbolSize": 28, "symbolOpacity": 1, "symbolStrokeWidth": 1.5, "padding": 3, "rowPadding": 0, "labelOffset": 10}}}}
 ]
},
{"data": {"values": []}, "mark": "point", "width": 100, "height": 1},
{
 "width": 201, "height": 206,
 "title": {"text": "(i) CDF", "dx": -9, "offset": 14},
 "layer": [
  {"data": {"name": "grid_i"}, "mark": {"type": "rule", "color": "#e2e2e2", "strokeWidth": 1},
   "encoding": {"x": {"field": "g", "type": "quantitative", "scale": {"domain": [0, 30], "nice": false, "zero": false}, "axis": {"values": [0, 10, 20, 30], "format": "d", "title": "Tracking error(m)", "grid": false, "domain": false, "labelFont": "Liberation Sans", "titleFont": "Liberation Sans", "labelFontSize": 14, "titleFontSize": 15, "labelPadding": 3, "titlePadding": 2}},
    "y": {"datum": 0, "type": "quantitative", "scale": {"domain": [0, 1.2189], "nice": false, "zero": false}, "axis": {"values": [0, 0.2, 0.4, 0.6, 0.8, 1], "format": "~g", "title": "Frequency(%)", "domain": false, "labelOverlap": false, "labelFont": "Liberation Sans", "titleFont": "Liberation Sans", "labelFontSize": 14, "titleFontSize": 15, "labelPadding": 5, "titlePadding": 1}},
    "y2": {"datum": 1}}},
  {"data": {"name": "cdf_i"}, "mark": {"type": "line", "strokeWidth": 1.2},
   "encoding": {
    "x": {"field": "x", "type": "quantitative"},
    "y": {"field": "y", "type": "quantitative"},
    "color": {"field": "s", "type": "nominal", "scale": {"domain": ["IMU", "Proposed"], "range": ["#ff0000", "#00ee00"]},
     "legend": {"title": null, "orient": "bottom-right", "offset": 7, "symbolType": "stroke", "symbolSize": 400, "symbolStrokeWidth": 1.2, "labelFont": "Liberation Sans", "labelFontSize": 13, "labelOffset": 2, "padding": 2, "rowPadding": 0}},
    "strokeDash": {"field": "s", "type": "nominal", "scale": {"domain": ["IMU", "Proposed"], "range": [[4, 3], [1, 0]]},
     "legend": {"title": null, "orient": "bottom-right", "offset": 7, "symbolType": "stroke", "symbolSize": 400, "symbolStrokeWidth": 1.2, "labelFont": "Liberation Sans", "labelFontSize": 13, "labelOffset": 2, "padding": 2, "rowPadding": 0}},
    "order": {"value": null}}},
  {"data": {"values": [{}]}, "mark": {"type": "rect", "filled": false, "stroke": "#262626", "strokeWidth": 1},
   "encoding": {"x": {"datum": 0}, "x2": {"datum": 30}, "y": {"datum": 0}, "y2": {"datum": 1}}},
  {"data": {"values": [{"t": "Tracking CDF"}]}, "mark": {"type": "text", "font": "Liberation Sans", "fontWeight": "bold", "fontSize": 15, "dy": -10, "baseline": "middle", "color": "#000000"},
   "encoding": {"x": {"datum": 15}, "y": {"datum": 1}, "text": {"field": "t"}}}
 ]
}
],
"resolve": {
 "scale": {"x": "independent", "y": "independent", "color": "independent", "shape": "independent", "strokeDash": "independent"},
 "legend": {"color": "independent", "shape": "independent", "strokeDash": "independent"},
 "axis": {"x": "independent", "y": "independent"}
}
}
],
"config": {
 "locale": {"number": {"decimal": ".", "thousands": ",", "grouping": [3], "currency": ["$", ""], "minus": "-"}},
 "view": {"stroke": null},
 "axis": {"grid": true, "gridColor": "#e2e2e2", "gridWidth": 1, "domainColor": "#262626", "domainWidth": 1, "ticks": false, "tickSize": 0, "labelColor": "#262626", "titleColor": "#262626", "titleFontWeight": "normal", "labelFont": "DejaVu Sans", "titleFont": "DejaVu Sans", "labelFontSize": 16, "titleFontSize": 16, "labelPadding": 6, "titlePadding": 5, "labelFlush": false, "labelOverlap": false},
 "title": {"font": "Liberation Serif", "fontSize": 22, "fontWeight": "normal", "color": "#000000", "orient": "bottom", "anchor": "middle", "frame": "group", "offset": 16},
 "legend": {"labelFont": "DejaVu Sans", "labelColor": "#262626", "strokeColor": "#262626", "fillColor": "#ffffff", "cornerRadius": 0, "symbolStrokeColor": "#ff0000", "symbolFillColor": "transparent", "symbolStrokeWidth": 2, "symbolOpacity": 1}
}
}
